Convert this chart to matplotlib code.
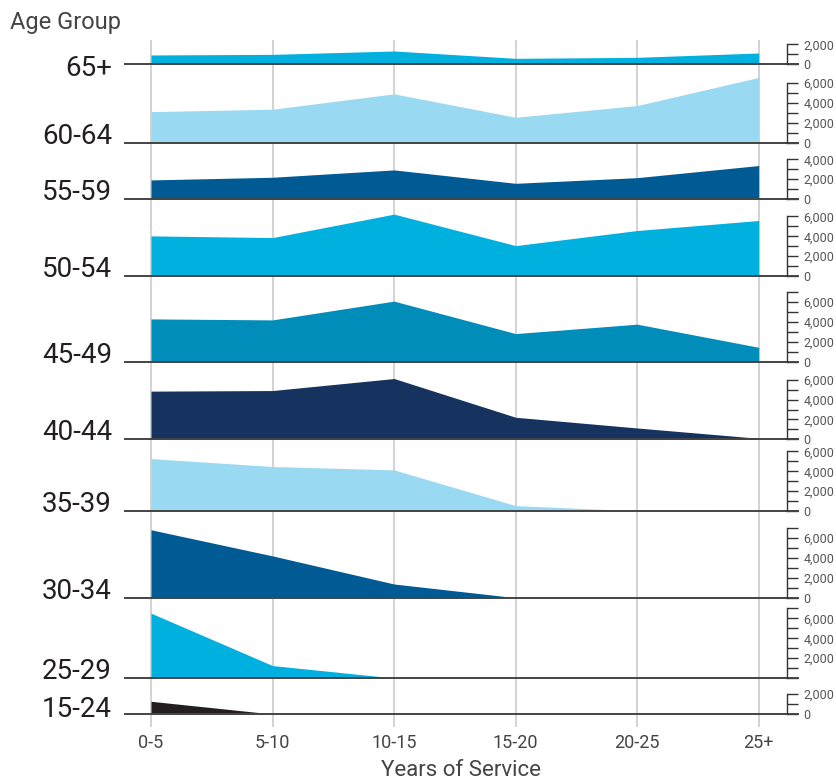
import numpy as np
import matplotlib.pyplot as plt

# categories
years = ['0-5', '5-10', '10-15', '15-20', '20-25', '25+']
age_groups = ['65+', '60-64', '55-59', '50-54', '45-49', '40-44',
              '35-39', '30-34', '25-29', '15-24']

# headcount per years-of-service band, one list per age group
age_65_plus = [940, 1000, 1340, 600, 700, 1140]
age_60_64 = [3130, 3370, 4920, 2560, 3740, 6570]
age_55_59 = [1920, 2190, 2930, 1580, 2150, 3370]
age_50_54 = [4040, 3870, 6230, 3060, 4580, 5590]
age_45_49 = [4310, 4210, 6100, 2830, 3780, 1450]
age_40_44 = [4850, 4910, 6120, 2220, 1140, 100]
age_35_39 = [5280, 4480, 4140, 540, 20, 0]
age_30_34 = [6840, 4210, 1380, 0, 0, 0]
age_25_29 = [6530, 1250, 0, 0, 0, 0]
age_15_24 = [1280, 0, 0, 0, 0, 0]

# top tick of each small y axis
axis_top = [2000, 6000, 4000, 6000, 7000, 6000, 6000, 7000, 7000, 2000]

series = [age_65_plus, age_60_64, age_55_59, age_50_54, age_45_49,
          age_40_44, age_35_39, age_30_34, age_25_29, age_15_24]
colours = ['#00b0de', '#99d9f2', '#005b94', '#00b0de', '#008dba',
           '#15335e', '#99d9f2', '#005b94', '#00b0de', '#231f20']

W, H = 837, 783
fig = plt.figure(figsize=(W / 100, H / 100), dpi=100)

narrow = ['Liberation Sans Narrow', 'Roboto', 'DejaVu Sans']

# layout in pixels
left_px, right_px = 125, 798
first_px, step_px = 151, 121.54
top_px, bottom_px = 40, 727
baseline_px = [64.3, 142.7, 199, 276, 361.7, 439.3, 511, 597.7, 678, 714]
label_px = [76, 143.7, 200, 277, 362.7, 440.3, 512, 598.7, 679, 717]
px_per_unit = 9.93 / 1000

xlim = ((left_px - first_px) / step_px, (right_px - first_px) / step_px)
spine_x = (786.7 - first_px) / step_px
x = np.arange(len(years))


def fig_rect(top, bottom):
    return [left_px / W, 1 - bottom / H, (right_px - left_px) / W, (bottom - top) / H]


# background: vertical grid and x labels
bg = fig.add_axes(fig_rect(top_px, bottom_px), zorder=0)
bg.set_xlim(xlim)
bg.set_ylim(0, 1)
for xi in x:
    bg.axvline(xi, color='#cccccc', lw=1.2)
for s in bg.spines.values():
    s.set_visible(False)
bg.set_yticks([])
bg.set_xticks(x)
bg.set_xticklabels(years, family=narrow, fontsize=13, color='#444444')
bg.tick_params(axis='x', length=0, pad=5)
bg.set_xlabel('Years of Service', family=narrow, fontsize=16, color='#444444', labelpad=6)

prev = top_px
for i, name in enumerate(age_groups):
    base = baseline_px[i]
    ax = fig.add_axes(fig_rect(prev, base), zorder=1)
    ax.set_facecolor('none')
    ax.set_xlim(xlim)
    ax.set_ylim(0, (base - prev) / px_per_unit)
    ax.fill_between(x, series[i], 0, color=colours[i], lw=0)
    ax.axhline(0, color='#444444', lw=1.4, clip_on=False)

    for side in ['top', 'left', 'bottom']:
        ax.spines[side].set_visible(False)
    sp = ax.spines['right']
    sp.set_position(('data', spine_x))
    sp.set_bounds(0, axis_top[i])
    sp.set_color('#333333')
    sp.set_linewidth(1)
    ax.set_xticks([])
    ax.yaxis.tick_right()
    ticks = list(range(0, axis_top[i] + 1, 1000))
    labels = [f'{t:,}' if t % 2000 == 0 else '' for t in ticks]
    if name == '25-29':
        labels[0] = ''
    ax.set_yticks(ticks)
    ax.set_yticklabels(labels, family=narrow)
    ax.tick_params(axis='y', direction='out', length=8, width=1, color='#333333',
                   pad=4, labelsize=9, labelcolor='#555555')

    fig.text(112 / W, 1 - label_px[i] / H, name, ha='right', va='baseline',
             family=narrow, fontsize=20, color='#231f20')
    prev = base

fig.text(10 / W, 1 - 28.5 / H, 'Age Group', ha='left', va='baseline',
         family=narrow, fontsize=17, color='#444444')

fig.savefig('out.png', dpi=100)
